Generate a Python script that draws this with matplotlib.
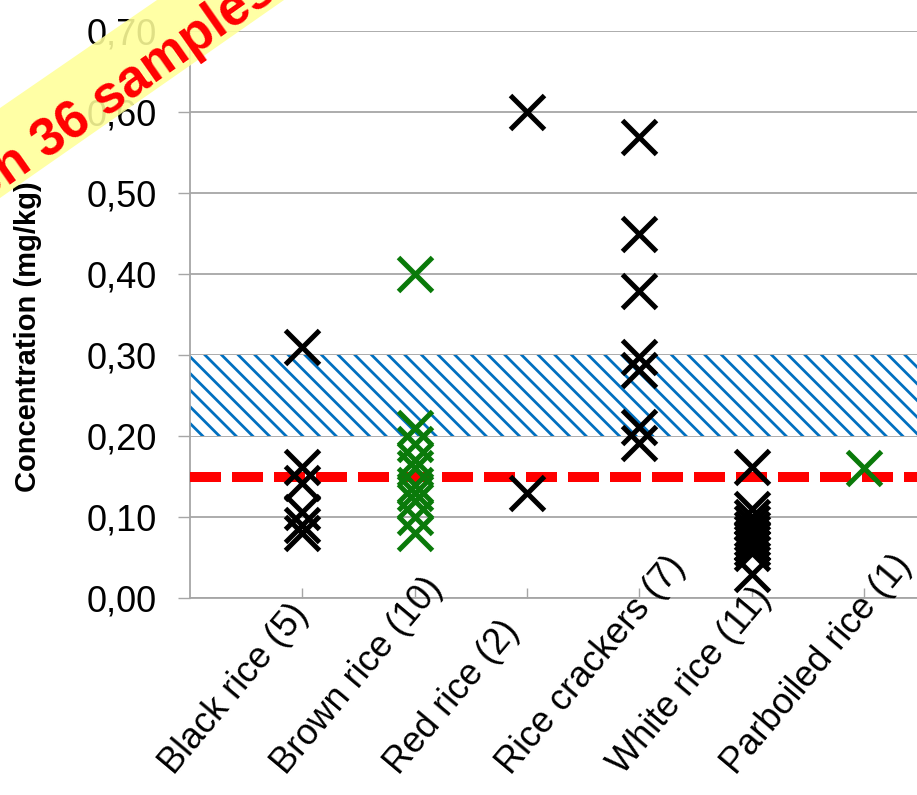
import matplotlib.pyplot as plt
import matplotlib.transforms as mtransforms
from matplotlib.patches import Polygon

plt.rcParams["font.family"] = ["Liberation Sans", "DejaVu Sans"]
plt.rcParams["hatch.linewidth"] = 2.0
plt.rcParams["hatch.color"] = "#0070C0"

# categories and concentrations (mg/kg)
categories = [
    "Black rice (5)",
    "Brown rice (10)",
    "Red rice (2)",
    "Rice crackers (7)",
    "White rice (11)",
    "Parboiled rice (1)",
]
blackRice = [0.31, 0.162, 0.142, 0.106, 0.09, 0.08]
brownRice = [0.40, 0.21, 0.19, 0.17, 0.16, 0.14, 0.13, 0.12, 0.10, 0.08]
redRice = [0.60, 0.13]
riceCrackers = [0.569, 0.45, 0.379, 0.298, 0.282, 0.211, 0.191]
whiteRice = [0.162, 0.11, 0.10, 0.093, 0.085, 0.08, 0.074, 0.068, 0.062, 0.056, 0.03]
parboiledRice = [0.16]

seriesValues = [blackRice, brownRice, redRice, riceCrackers, whiteRice, parboiledRice]
seriesColors = ["black", "#0A7A0A", "black", "black", "black", "#0A7A0A"]

bandLow, bandHigh = 0.20, 0.30
limitLine = 0.15
yTicks = [0.0, 0.1, 0.2, 0.3, 0.4, 0.5, 0.6, 0.7]
yTickLabels = ["0,00", "0,10", "0,20", "0,30", "0,40", "0,50", "0,60", "0,70"]
bannerText = "Based on 36 samples"

W, H = 917, 795
fig = plt.figure(figsize=(W / 100, H / 100), dpi=100)
ax = fig.add_axes([190 / W, 197 / H, 727 / W, 567 / H])

gridGray = "#A6A6A6"

# hatched reference band
ax.axhspan(bandLow, bandHigh, facecolor="white", edgecolor="#0070C0",
           hatch="\\\\", linewidth=0, zorder=1)

for y in yTicks:
    ax.axhline(y, color=gridGray, linewidth=1.3, zorder=0.5)

# red dashed limit
ax.axhline(limitLine, color="#FF0000", linewidth=7.2, dashes=(3.1, 1.1),
           solid_capstyle="butt", dash_capstyle="butt", zorder=3)

for i, (vals, col) in enumerate(zip(seriesValues, seriesColors)):
    ax.plot([i] * len(vals), vals, linestyle="none", marker="x",
            markersize=25, markeredgewidth=3.6, color=col, zorder=4)

ax.set_xlim(-1, 5.47)
ax.set_ylim(0, 0.70)

ax.set_yticks(yTicks)
ax.set_yticklabels(yTickLabels, fontsize=26)
ax.tick_params(axis="y", direction="out", length=8.6, width=1, color=gridGray, pad=15)

# category labels start at a fixed point below-left of each tick
ax.set_xticks(range(len(categories)))
ax.set_xticklabels([])
ax.tick_params(axis="x", direction="in", length=7, width=1, color=gridGray)
labelTrans = mtransforms.offset_copy(ax.get_xaxis_transform(), fig=fig,
                                     x=-136, y=-172, units="dots")
for i, name in enumerate(categories):
    ax.text(i, 0, name, transform=labelTrans, fontsize=26, rotation=50,
            rotation_mode="anchor", ha="left", va="center", clip_on=False)

for side in ["top", "right"]:
    ax.spines[side].set_visible(False)
for side in ["left", "bottom"]:
    ax.spines[side].set_color(gridGray)
    ax.spines[side].set_linewidth(1.3)

fig.text(28 / W, 1 - 337 / H, "Concentration (mg/kg)", rotation=90,
         ha="center", va="center", fontsize=21, fontweight="bold")

# yellow banner over the top-left corner
bannerPts = [(0, 108), (157, 0), (284, 0), (0, 198)]
banner = Polygon([(x / W, 1 - y / H) for x, y in bannerPts], closed=True,
                 transform=fig.transFigure, facecolor="#FFFF99", edgecolor="none",
                 alpha=0.88, zorder=10)
fig.patches.append(banner)
fig.text(48 / W, 1 - 134 / H, bannerText, rotation=35, rotation_mode="anchor",
         ha="center", va="center_baseline", fontsize=38, fontweight="bold",
         color="#FF0000", zorder=11)

fig.savefig("out.png", dpi=100)
